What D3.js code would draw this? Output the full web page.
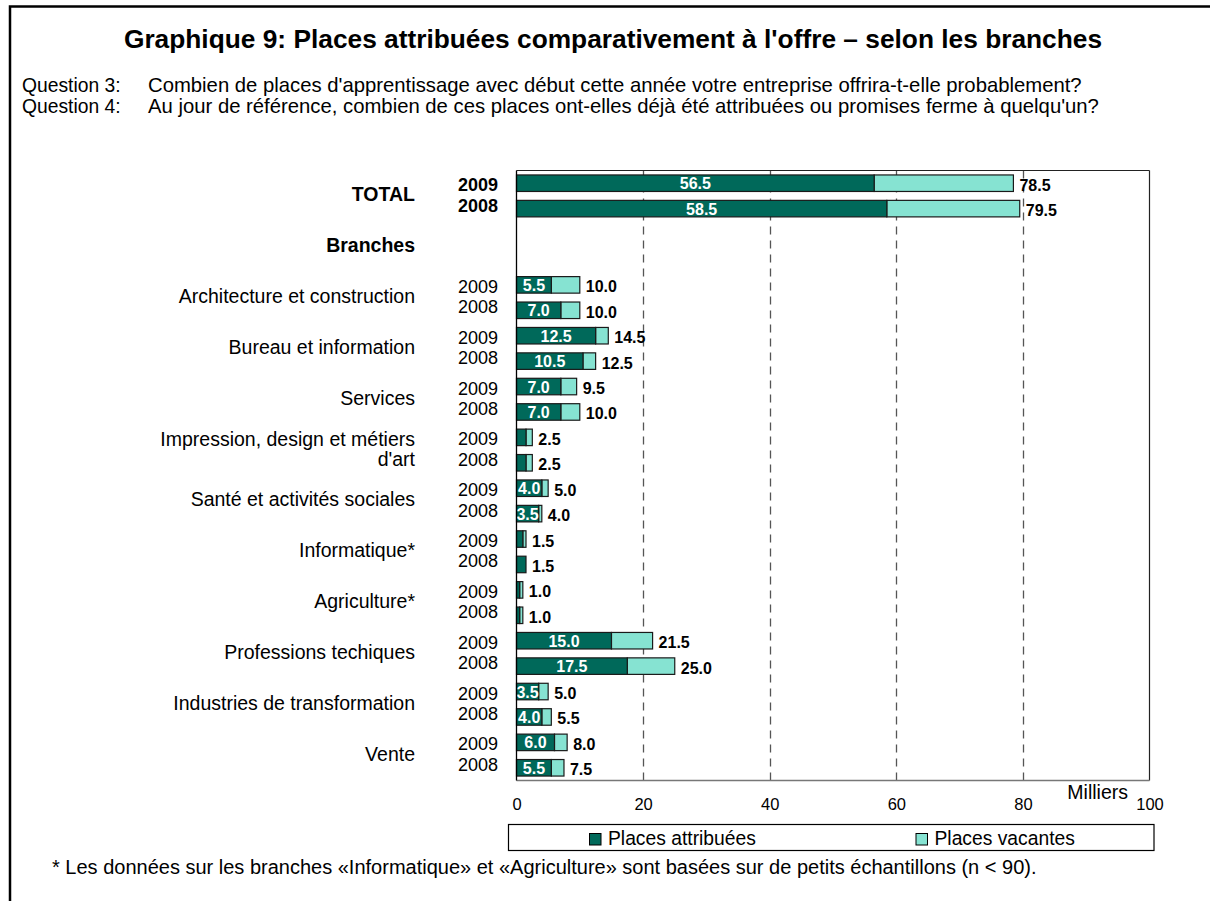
<!DOCTYPE html>
<html><head><meta charset="utf-8">
<script src="https://cdn.jsdelivr.net/npm/d3@7"></script>
<style>
html,body{margin:0;padding:0;background:#fff;}
svg{display:block;font-family:"Liberation Sans",Arial,sans-serif;}
</style></head>
<body>
<svg id="chart" width="1210" height="901"></svg>
<script>
// ---- data ----
const categories = ["TOTAL","Branches","Architecture et construction","Bureau et information","Services",
  "Impression, design et métiers d'art","Santé et activités sociales","Informatique*","Agriculture*",
  "Professions techiques","Industries de transformation","Vente"];
const categoryLines = [["TOTAL"],["Branches"],["Architecture et construction"],["Bureau et information"],["Services"],
  ["Impression, design et métiers","d'art"],["Santé et activités sociales"],["Informatique*"],["Agriculture*"],
  ["Professions techiques"],["Industries de transformation"],["Vente"]];
const years = ["2009","2008"];
const attribuees2009 = [56.5, null, 5.5, 12.5, 7.0, 1.5, 4.0, 1.0, 0.5, 15.0, 3.5, 6.0];
const attribuees2008 = [58.5, null, 7.0, 10.5, 7.0, 1.5, 3.5, 1.5, 0.5, 17.5, 4.0, 5.5];
const offre2009     = [78.5, null, 10.0, 14.5, 9.5, 2.5, 5.0, 1.5, 1.0, 21.5, 5.0, 8.0];
const offre2008     = [79.5, null, 10.0, 12.5, 10.0, 2.5, 4.0, 1.5, 1.0, 25.0, 5.5, 7.5];
const xTicks = [0,20,40,60,80,100];
const seriesNames = ["Places attribuées","Places vacantes"];
const title = "Graphique 9: Places attribuées comparativement à l'offre – selon les branches";
const questions = [["Question 3:","Combien de places d'apprentissage avec début cette année votre entreprise offrira-t-elle probablement?"],
  ["Question 4:","Au jour de référence, combien de ces places ont-elles déjà été attribuées ou promises ferme à quelqu'un?"]];
const footnote = "* Les données sur les branches «Informatique» et «Agriculture» sont basées sur de petits échantillons (n < 90).";

// ---- layout ----
const svg = d3.select("#chart");
const colDark = "#00695A", colLight = "#86E3D2";
const L = 516.5, R = 1149.5, T = 170.5, B = 780.5;

// frame border
svg.append("path").attr("d", `M10,901 L10,6.5 L1210,6.5`).attr("fill","none").attr("stroke","#000").attr("stroke-width",2.5);

svg.append("text").attr("x",613).attr("y",48).attr("text-anchor","middle")
  .attr("font-size",26.3).attr("font-weight","bold").text(title);
questions.forEach((q,i)=>{
  svg.append("text").attr("x",22).attr("y",91.5+i*21.5).attr("font-size",19.3).text(q[0]);
  svg.append("text").attr("x",148).attr("y",91.5+i*21.5).attr("font-size",20.3).text(q[1]);
});

const x = d3.scaleLinear().domain([0,100]).range([L,R]);
const y0 = d3.scaleBand().domain(categories).range([T,B]).padding(0);
const y1 = d3.scaleBand().domain(years).range([0,y0.bandwidth()]).paddingInner(0.35).paddingOuter(0.175);

// grid
svg.append("g").selectAll("line").data(xTicks.filter(t=>t>0 && t<100)).join("line")
  .attr("x1",d=>Math.round(x(d))+0.5).attr("x2",d=>Math.round(x(d))+0.5).attr("y1",T).attr("y2",B)
  .attr("stroke","#555").attr("stroke-width",1.3).attr("stroke-dasharray","8,6");

// plot frame
svg.append("line").attr("x1",L).attr("x2",R).attr("y1",T).attr("y2",T).attr("stroke","#222").attr("stroke-width",1.2);
svg.append("line").attr("x1",R).attr("x2",R).attr("y1",T).attr("y2",B).attr("stroke","#222").attr("stroke-width",1.2);
svg.append("line").attr("x1",L).attr("x2",R).attr("y1",B).attr("y2",B).attr("stroke","#777").attr("stroke-width",1.5);

// x axis
const xAxis = svg.append("g").attr("transform",`translate(0,${B+15})`)
  .call(d3.axisBottom(x).tickValues(xTicks).tickSize(0).tickFormat(d3.format("d")));
xAxis.select(".domain").remove();
xAxis.selectAll("text").attr("font-size",16.5).attr("font-family","Liberation Sans, Arial, sans-serif").attr("fill","#000");
svg.append("text").attr("x",1128).attr("y",799).attr("text-anchor","end").attr("font-size",19.5).text("Milliers");

// bars
const rows = [];
categories.forEach((c,i)=>{
  if (attribuees2009[i]==null) return;
  rows.push({cat:c, year:"2009", a:attribuees2009[i], t:offre2009[i]});
  rows.push({cat:c, year:"2008", a:attribuees2008[i], t:offre2008[i]});
});
const g = svg.append("g");
rows.forEach(r=>{
  const yy = y0(r.cat)+y1(r.year), h = y1.bandwidth();
  g.append("rect").attr("x",x(r.a)).attr("y",yy).attr("width",x(r.t)-x(r.a)).attr("height",h)
    .attr("fill",colLight).attr("stroke","#1a1a1a").attr("stroke-width",1.2);
  g.append("rect").attr("x",x(0)).attr("y",yy).attr("width",x(r.a)-x(0)).attr("height",h)
    .attr("fill",colDark).attr("stroke","#1a1a1a").attr("stroke-width",1.2);
  if (r.a >= 3.5) {
    g.append("text").attr("x",(x(0)+x(r.a))/2).attr("y",yy+h/2+6).attr("text-anchor","middle")
      .attr("font-size",16).attr("font-weight","bold").attr("fill","#fff").text(r.a.toFixed(1));
  }
  g.append("text").attr("x",x(r.t)+6).attr("y",yy+h/2+7.5)
    .attr("font-size",16).attr("font-weight","bold").attr("fill","#000").text(r.t.toFixed(1));
});
// left axis line
svg.append("line").attr("x1",L).attr("x2",L).attr("y1",T).attr("y2",B).attr("stroke","#000").attr("stroke-width",1.3);

// category labels
categories.forEach((c,i)=>{
  const cy = y0(c)+y0.bandwidth()/2;
  const lines = categoryLines[i];
  const bold = i<2;
  const lh = 20;
  const t = svg.append("text").attr("x",415).attr("text-anchor","end").attr("font-size",19.5)
    .attr("font-weight",bold?"bold":"normal");
  lines.forEach((ln,k)=>{
    t.append("tspan").attr("x",415).attr("y",cy + (k-(lines.length-1)/2)*lh + 5.5).text(ln);
  });
  if (attribuees2009[i]!=null) {
    years.forEach((yr,k)=>{
      svg.append("text").attr("x",498).attr("y",cy+(k-0.5)*20.2+5.5).attr("text-anchor","end")
        .attr("font-size",18).attr("font-weight",bold?"bold":"normal").text(yr);
    });
  }
});

// legend
svg.append("rect").attr("x",508.5).attr("y",824.5).attr("width",645.5).attr("height",26).attr("fill","#fff").attr("stroke","#000").attr("stroke-width",1.2);
const legX = [589.5, 916];
seriesNames.forEach((s,i)=>{
  svg.append("rect").attr("x",legX[i]).attr("y",833.5).attr("width",11.5).attr("height",11.5)
    .attr("fill",i?colLight:colDark).attr("stroke","#000");
  svg.append("text").attr("x",legX[i]+18.5).attr("y",845).attr("font-size",19.3).text(s);
});

svg.append("text").attr("x",52).attr("y",874).attr("font-size",20).text(footnote);
</script>
</body></html>
